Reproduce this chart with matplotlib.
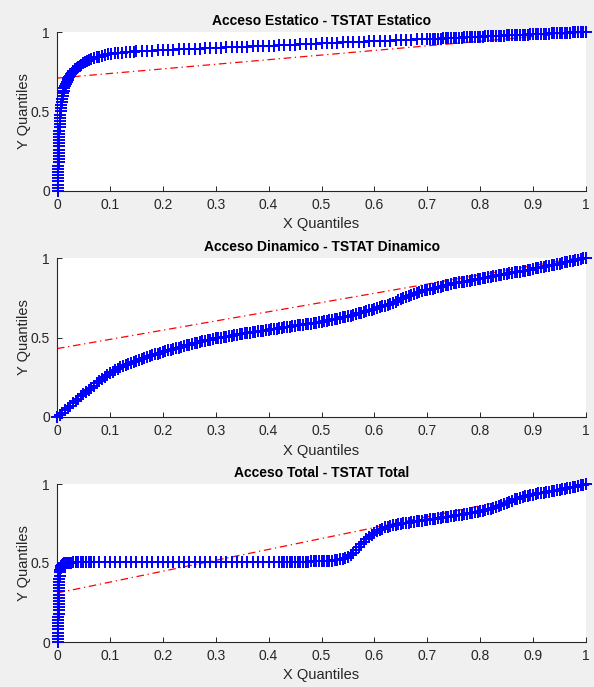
import matplotlib
matplotlib.use('Agg')
import matplotlib.pyplot as plt

plt.rcParams['font.family'] = ['Liberation Sans', 'DejaVu Sans']

# 1) Quantile pairs
# -- top panel: Acceso Estatico vs TSTAT Estatico
top_x = [0.002, 0.002, 0.002, 0.002, 0.002, 0.002, 0.002, 0.002, 0.002, 0.003,
         0.003, 0.003, 0.003, 0.003, 0.003, 0.003, 0.004, 0.004, 0.004, 0.004,
         0.005, 0.005,
         0.005, 0.006, 0.006, 0.007, 0.008, 0.008, 0.009, 0.010, 0.011, 0.012,
         0.013, 0.014, 0.015, 0.017, 0.018, 0.020, 0.021, 0.023, 0.025, 0.027,
         0.029, 0.031, 0.034, 0.037, 0.040, 0.043, 0.046, 0.050, 0.053, 0.057,
         0.061, 0.065, 0.070, 0.075, 0.080, 0.085, 0.091, 0.097, 0.103, 0.110,
         0.116, 0.123, 0.130, 0.138, 0.145,
         0.15, 0.16, 0.17, 0.18, 0.19, 0.20, 0.21, 0.22, 0.23, 0.24,
         0.25, 0.26, 0.27, 0.28, 0.29, 0.30, 0.31, 0.32, 0.33, 0.34,
         0.35, 0.36, 0.37, 0.38, 0.39, 0.40, 0.41, 0.42, 0.43, 0.44,
         0.45, 0.46, 0.47, 0.48, 0.49, 0.50, 0.51, 0.52, 0.53, 0.54,
         0.55, 0.56, 0.57, 0.58, 0.59, 0.60, 0.61, 0.62, 0.63, 0.64,
         0.65, 0.66, 0.67, 0.68, 0.69,
         0.700, 0.705, 0.710, 0.715, 0.720, 0.725, 0.730, 0.735, 0.740, 0.745,
         0.750, 0.755, 0.760, 0.765, 0.770, 0.775, 0.780, 0.785, 0.790, 0.795,
         0.800, 0.805, 0.810, 0.815, 0.820, 0.825, 0.830, 0.835, 0.840, 0.845,
         0.850, 0.855, 0.860, 0.865, 0.870, 0.875, 0.880, 0.885, 0.890, 0.895,
         0.900, 0.905, 0.910, 0.915, 0.920, 0.925, 0.930, 0.935, 0.940, 0.945,
         0.950, 0.955, 0.960, 0.965, 0.970, 0.975, 0.980, 0.985, 0.990, 0.995,
         1.000]
top_y = [0.00, 0.02, 0.04, 0.06, 0.08, 0.10, 0.12, 0.14, 0.16, 0.18,
         0.20, 0.22, 0.24, 0.26, 0.28, 0.30, 0.32, 0.34, 0.36, 0.38,
         0.40, 0.42,
         0.44, 0.46, 0.48, 0.50, 0.52, 0.54, 0.56, 0.58, 0.60, 0.615,
         0.63, 0.645, 0.66, 0.672, 0.685, 0.695, 0.705, 0.715, 0.725, 0.735,
         0.745, 0.755, 0.765, 0.773, 0.780, 0.788, 0.795, 0.803, 0.810, 0.818,
         0.825, 0.830, 0.835, 0.840, 0.845, 0.850, 0.855, 0.859, 0.862, 0.865,
         0.868, 0.871, 0.873, 0.875, 0.877,
         0.879, 0.880, 0.882, 0.883, 0.885, 0.886, 0.887, 0.889, 0.890, 0.892,
         0.893, 0.894, 0.896, 0.897, 0.899, 0.900, 0.901, 0.903, 0.904, 0.906,
         0.907, 0.908, 0.910, 0.911, 0.913, 0.914, 0.915, 0.917, 0.918, 0.920,
         0.921, 0.922, 0.924, 0.925, 0.927, 0.928, 0.929, 0.931, 0.932, 0.934,
         0.935, 0.936, 0.938, 0.939, 0.941, 0.942, 0.943, 0.945, 0.946, 0.948,
         0.949, 0.950, 0.952, 0.953, 0.955,
         0.955, 0.956, 0.957, 0.958, 0.958, 0.959, 0.960, 0.961, 0.961, 0.962,
         0.963, 0.964, 0.964, 0.965, 0.966, 0.967, 0.967, 0.968, 0.969, 0.970,
         0.970, 0.971, 0.972, 0.973, 0.973, 0.974, 0.975, 0.976, 0.976, 0.977,
         0.978, 0.979, 0.979, 0.980, 0.981, 0.982, 0.982, 0.983, 0.984, 0.985,
         0.985, 0.986, 0.987, 0.988, 0.988, 0.989, 0.990, 0.991, 0.991, 0.992,
         0.993, 0.994, 0.994, 0.995, 0.996, 0.997, 0.997, 0.998, 0.999, 0.999,
         1.000]

# -- middle panel: Acceso Dinamico vs TSTAT Dinamico
mid_x = [0.000, 0.005, 0.010, 0.015, 0.020, 0.025, 0.030, 0.035, 0.040, 0.045,
         0.050, 0.055, 0.060, 0.065, 0.070, 0.075, 0.080, 0.085, 0.090, 0.095,
         0.100, 0.105, 0.110, 0.115, 0.120, 0.125, 0.130, 0.135, 0.140, 0.145,
         0.150, 0.155, 0.160, 0.165, 0.170, 0.175, 0.180, 0.185, 0.190, 0.195,
         0.200, 0.205, 0.210, 0.215, 0.220, 0.225, 0.230, 0.235, 0.240, 0.245,
         0.250, 0.255, 0.260, 0.265, 0.270, 0.275, 0.280, 0.285, 0.290, 0.295,
         0.300, 0.305, 0.310, 0.315, 0.320, 0.325, 0.330, 0.335, 0.340, 0.345,
         0.350, 0.355, 0.360, 0.365, 0.370, 0.375, 0.380, 0.385, 0.390, 0.395,
         0.400, 0.405, 0.410, 0.415, 0.420, 0.425, 0.430, 0.435, 0.440, 0.445,
         0.450, 0.455, 0.460, 0.465, 0.470, 0.475, 0.480, 0.485, 0.490, 0.495,
         0.500, 0.505, 0.510, 0.515, 0.520, 0.525, 0.530, 0.535, 0.540, 0.545,
         0.550, 0.555, 0.560, 0.565, 0.570, 0.575, 0.580, 0.585, 0.590, 0.595,
         0.600, 0.605, 0.610, 0.615, 0.620, 0.625, 0.630, 0.635, 0.640, 0.645,
         0.650, 0.655, 0.660, 0.665, 0.670, 0.675, 0.680, 0.685, 0.690, 0.695,
         0.700, 0.705, 0.710, 0.715, 0.720, 0.725, 0.730, 0.735, 0.740, 0.745,
         0.750, 0.755, 0.760, 0.765, 0.770, 0.775, 0.780, 0.785, 0.790, 0.795,
         0.800, 0.805, 0.810, 0.815, 0.820, 0.825, 0.830, 0.835, 0.840, 0.845,
         0.850, 0.855, 0.860, 0.865, 0.870, 0.875, 0.880, 0.885, 0.890, 0.895,
         0.900, 0.905, 0.910, 0.915, 0.920, 0.925, 0.930, 0.935, 0.940, 0.945,
         0.950, 0.955, 0.960, 0.965, 0.970, 0.975, 0.980, 0.985, 0.990, 0.995,
         1.000]
mid_y = [0.000, 0.014, 0.028, 0.042, 0.056, 0.070, 0.085, 0.100, 0.115, 0.130,
         0.145, 0.158, 0.172, 0.185, 0.198, 0.212, 0.225, 0.238, 0.251, 0.263,
         0.275, 0.285, 0.295, 0.304, 0.313, 0.321, 0.328, 0.334, 0.340, 0.346,
         0.352, 0.358, 0.364, 0.370, 0.376, 0.382, 0.388, 0.394, 0.399, 0.405,
         0.410, 0.415, 0.419, 0.424, 0.428, 0.433, 0.437, 0.442, 0.446, 0.451,
         0.455, 0.459, 0.463, 0.467, 0.471, 0.475, 0.479, 0.483, 0.487, 0.491,
         0.495, 0.498, 0.500, 0.503, 0.506, 0.509, 0.511, 0.514, 0.517, 0.520,
         0.523, 0.526, 0.528, 0.531, 0.533, 0.536, 0.538, 0.541, 0.543, 0.546,
         0.548, 0.551, 0.553, 0.556, 0.558, 0.561, 0.563, 0.566, 0.568, 0.571,
         0.573, 0.576, 0.578, 0.581, 0.583, 0.586, 0.588, 0.591, 0.594, 0.597,
         0.600, 0.603, 0.606, 0.609, 0.612, 0.616, 0.619, 0.623, 0.626, 0.630,
         0.634, 0.638, 0.642, 0.647, 0.651, 0.656, 0.660, 0.665, 0.670, 0.675,
         0.680, 0.685, 0.690, 0.696, 0.701, 0.707, 0.713, 0.720, 0.726, 0.733,
         0.740, 0.748, 0.755, 0.762, 0.769, 0.775, 0.781, 0.786, 0.791, 0.796,
         0.800, 0.804, 0.808, 0.812, 0.816, 0.820, 0.824, 0.828, 0.832, 0.836,
         0.840, 0.843, 0.846, 0.849, 0.852, 0.855, 0.858, 0.861, 0.864, 0.867,
         0.870, 0.873, 0.876, 0.879, 0.882, 0.885, 0.888, 0.891, 0.894, 0.897,
         0.900, 0.903, 0.906, 0.909, 0.912, 0.915, 0.918, 0.921, 0.924, 0.927,
         0.930, 0.934, 0.937, 0.941, 0.944, 0.948, 0.951, 0.955, 0.958, 0.962,
         0.965, 0.969, 0.972, 0.976, 0.979, 0.983, 0.986, 0.990, 0.993, 0.997,
         1.000]

# -- bottom panel: Acceso Total vs TSTAT Total
bot_x = [0.002, 0.002, 0.002, 0.002, 0.002, 0.002, 0.002, 0.002, 0.002, 0.003,
         0.003, 0.003, 0.003, 0.003, 0.003, 0.003, 0.004, 0.004, 0.004, 0.004,
         0.004,
         0.005, 0.005, 0.006, 0.007, 0.008, 0.010, 0.012, 0.014, 0.017, 0.020,
         0.023, 0.026,
         0.030, 0.035, 0.040, 0.045, 0.050, 0.055, 0.060, 0.065, 0.070,
         0.08, 0.09, 0.10, 0.11, 0.12, 0.13, 0.14, 0.15, 0.16, 0.17,
         0.18, 0.19, 0.20, 0.21, 0.22, 0.23, 0.24, 0.25, 0.26, 0.27,
         0.28, 0.29, 0.30, 0.31, 0.32, 0.33, 0.34, 0.35, 0.36, 0.37,
         0.38, 0.39, 0.40, 0.41, 0.42,
         0.425, 0.430, 0.435, 0.440, 0.445, 0.450, 0.455, 0.460, 0.465, 0.470,
         0.475, 0.480, 0.485, 0.490, 0.495, 0.500, 0.505, 0.510, 0.515, 0.520,
         0.525, 0.530, 0.535, 0.540, 0.545, 0.550, 0.555, 0.560, 0.565, 0.570,
         0.575, 0.580, 0.585, 0.590, 0.595, 0.600, 0.605, 0.610, 0.615, 0.620,
         0.625, 0.630, 0.635, 0.640, 0.645, 0.650, 0.655, 0.660, 0.665, 0.670,
         0.675, 0.680, 0.685, 0.690, 0.695, 0.700, 0.705, 0.710, 0.715, 0.720,
         0.725, 0.730, 0.735, 0.740, 0.745, 0.750, 0.755, 0.760, 0.765, 0.770,
         0.775, 0.780, 0.785, 0.790, 0.795, 0.800, 0.805, 0.810, 0.815, 0.820,
         0.825, 0.830, 0.835, 0.840, 0.845, 0.850, 0.855, 0.860, 0.865, 0.870,
         0.875, 0.880, 0.885, 0.890, 0.895, 0.900, 0.905, 0.910, 0.915, 0.920,
         0.925, 0.930, 0.935, 0.940, 0.945, 0.950, 0.955, 0.960, 0.965, 0.970,
         0.975, 0.980, 0.985, 0.990, 0.995, 1.000]
bot_y = [0.00, 0.02, 0.04, 0.06, 0.08, 0.10, 0.12, 0.14, 0.16, 0.18,
         0.20, 0.22, 0.24, 0.26, 0.28, 0.30, 0.32, 0.34, 0.36, 0.38,
         0.40,
         0.42, 0.44, 0.455, 0.47, 0.48, 0.488, 0.494, 0.498, 0.500, 0.502,
         0.503, 0.503,
         0.504, 0.504, 0.504, 0.504, 0.504, 0.504, 0.504, 0.504, 0.504,
         0.505, 0.505, 0.505, 0.505, 0.505, 0.505, 0.505, 0.505, 0.505, 0.505,
         0.505, 0.505, 0.505, 0.505, 0.505, 0.505, 0.505, 0.505, 0.506, 0.506,
         0.506, 0.506, 0.506, 0.506, 0.506, 0.506, 0.506, 0.506, 0.506, 0.507,
         0.507, 0.507, 0.507, 0.507, 0.507,
         0.507, 0.507, 0.507, 0.508, 0.508, 0.508, 0.508, 0.509, 0.509, 0.509,
         0.509, 0.510, 0.510, 0.510, 0.511, 0.511, 0.512, 0.512, 0.513, 0.515,
         0.517, 0.520, 0.524, 0.528, 0.533, 0.540, 0.550, 0.565, 0.582, 0.600,
         0.618, 0.635, 0.650, 0.665, 0.678, 0.690, 0.700, 0.710, 0.718, 0.725,
         0.730, 0.735, 0.739, 0.742, 0.745, 0.748, 0.751, 0.753, 0.756, 0.758,
         0.761, 0.763, 0.766, 0.768, 0.771, 0.773, 0.776, 0.778, 0.781, 0.783,
         0.786, 0.788, 0.791, 0.793, 0.796, 0.798, 0.801, 0.803, 0.806, 0.808,
         0.811, 0.814, 0.817, 0.820, 0.823, 0.827, 0.831, 0.835, 0.839, 0.843,
         0.848, 0.853, 0.859, 0.865, 0.872, 0.880, 0.888, 0.895, 0.902, 0.908,
         0.913, 0.918, 0.922, 0.926, 0.930, 0.933, 0.937, 0.940, 0.943, 0.946,
         0.949, 0.952, 0.955, 0.958, 0.961, 0.964, 0.967, 0.970, 0.974, 0.977,
         0.981, 0.984, 0.988, 0.992, 0.996, 1.000]

# reference lines (end points)
top_line_x, top_line_y = [0, 1], [0.71, 1.00]
mid_line_x, mid_line_y = [0, 1], [0.43, 1.01]
bot_line_x, bot_line_y = [0, 1], [0.31, 1.00]

titles = ['Acceso Estatico - TSTAT Estatico',
          'Acceso Dinamico - TSTAT Dinamico',
          'Acceso Total - TSTAT Total']
xticks = [0, 0.1, 0.2, 0.3, 0.4, 0.5, 0.6, 0.7, 0.8, 0.9, 1]
xtick_labels = ['0', '0.1', '0.2', '0.3', '0.4', '0.5', '0.6', '0.7', '0.8', '0.9', '1']
yticks = [0, 0.5, 1]
ytick_labels = ['0', '0.5', '1']

panels = [(top_x, top_y, top_line_x, top_line_y),
          (mid_x, mid_y, mid_line_x, mid_line_y),
          (bot_x, bot_y, bot_line_x, bot_line_y)]

# 2) Figure
W, H = 594, 687
fig = plt.figure(figsize=(W / 100, H / 100), dpi=100, facecolor='#f0f0f0')
axes_px = [(32, 191), (258, 417), (484, 642)]
left_px, right_px = 57, 586

for (qx, qy, lx, ly), title, (t, b) in zip(panels, titles, axes_px):
    ax = fig.add_axes([left_px / W, 1 - b / H, (right_px - left_px) / W, (b - t) / H])
    ax.set_facecolor('white')
    ax.plot(lx, ly, color='red', linestyle=(0, (6, 3, 1, 3)), linewidth=0.9, zorder=2)
    ax.plot(qx, qy, linestyle='none', marker='+', color='blue',
            markersize=9, markeredgewidth=1.4, clip_on=False, zorder=3)
    ax.set_xlim(0, 1)
    ax.set_ylim(0, 1)
    ax.set_xticks(xticks)
    ax.set_xticklabels(xtick_labels)
    ax.set_yticks(yticks)
    ax.set_yticklabels(ytick_labels)
    for s in ['top', 'right']:
        ax.spines[s].set_visible(False)
    for s in ['left', 'bottom']:
        ax.spines[s].set_color('#262626')
        ax.spines[s].set_linewidth(0.8)
    ax.tick_params(direction='in', length=3.5, width=0.7, colors='#262626',
                   labelsize=10, pad=5)
    ax.set_title(title, fontsize=10, fontweight='bold', color='black', pad=5)
    ax.set_xlabel('X Quantiles', fontsize=10.5, color='#262626', labelpad=4)
    ax.set_ylabel('Y Quantiles', fontsize=10.5, color='#262626', labelpad=0)

plt.savefig('out.png', dpi=100, facecolor=fig.get_facecolor())
